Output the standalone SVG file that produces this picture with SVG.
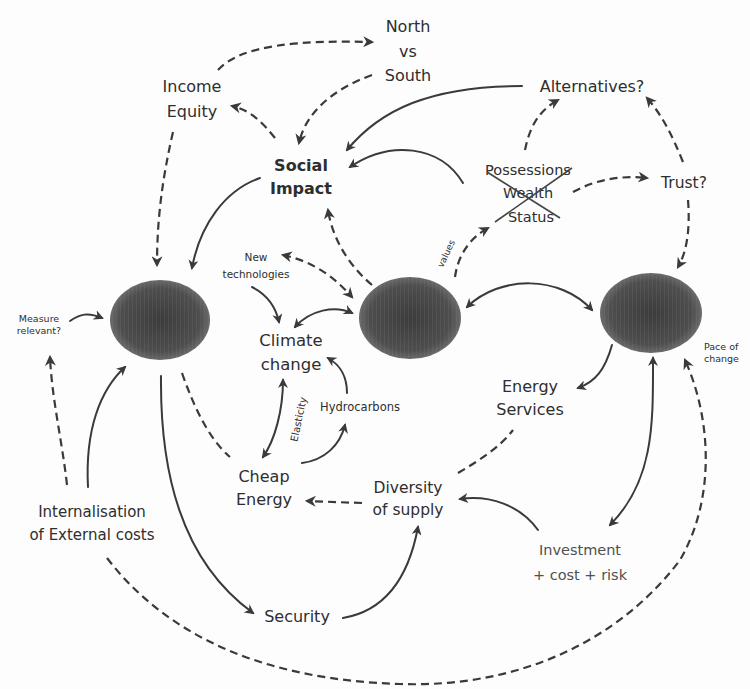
<svg xmlns="http://www.w3.org/2000/svg" width="750" height="689" viewBox="0 0 750 689">
<defs>
<marker id="ah" viewBox="0 0 10 10" refX="8" refY="5" markerWidth="5" markerHeight="5" orient="auto-start-reverse" markerUnits="strokeWidth">
<path d="M0,0 L10,5 L0,10 L3,5 Z" fill="#3a3a3a"/>
</marker>
<radialGradient id="eg" cx="0.5" cy="0.5" r="0.5">
<stop offset="0" stop-color="#3c3c3c"/>
<stop offset="0.8" stop-color="#4e4e4e"/>
<stop offset="1" stop-color="#6a6a6a"/>
</radialGradient>
<pattern id="grid" width="4" height="4" patternUnits="userSpaceOnUse">
<rect width="4" height="4" fill="none"/>
<path d="M0,0 V4" stroke="#8a8a8a" stroke-width="0.6" opacity="0.5"/>
</pattern>
</defs>
<style>
.t{font-family:"DejaVu Sans","Noto Sans",sans-serif;fill:#2e2e2e;text-anchor:middle}
.s{stroke:#3a3a3a;stroke-width:2;fill:none;stroke-linecap:round}
.d{stroke:#3a3a3a;stroke-width:2.2;fill:none;stroke-dasharray:8 5}
.e{fill:url(#eg)}
.x{stroke:#444;stroke-width:1.6;fill:none}
</style>
<rect width="750" height="689" fill="#fdfdfd"/>

<g id="connectors">
<path class="d" d="M218,70 C240,45 300,40 372,42" marker-end="url(#ah)"/>
<path class="d" d="M372,75 C330,90 305,115 299,143" marker-end="url(#ah)"/>
<path class="d" d="M275,138 C262,122 250,110 232,106" marker-end="url(#ah)"/>
<path class="d" d="M173,132 C162,180 157,220 157,265" marker-end="url(#ah)"/>
<path class="s" d="M260,178 C225,190 200,225 192,268" marker-end="url(#ah)"/>
<path class="s" d="M522,86 C430,86 380,110 347,150" marker-end="url(#ah)"/>
<path class="s" d="M463,183 C440,145 390,140 350,167" marker-end="url(#ah)"/>
<path class="d" d="M372,285 C345,262 332,235 328,210" marker-end="url(#ah)"/>
<path class="d" d="M283,255 C315,262 335,278 352,297" marker-start="url(#ah)" marker-end="url(#ah)"/>
<path class="s" d="M252,287 C268,295 276,308 279,322" marker-end="url(#ah)"/>
<path class="s" d="M295,327 C310,310 335,305 352,313" marker-start="url(#ah)" marker-end="url(#ah)"/>
<path class="s" d="M70,321 C80,314 88,312 102,318" marker-end="url(#ah)"/>
<path class="d" d="M67,485 C62,440 52,400 50,357" marker-end="url(#ah)"/>
<path class="s" d="M88,487 C85,430 100,390 125,367" marker-end="url(#ah)"/>
<path class="s" d="M161,376 C160,470 180,560 253,613" marker-end="url(#ah)"/>
<path class="d" d="M182,373 C195,410 210,440 230,457"/>
<path class="s" d="M283,380 C283,410 275,440 263,457" marker-start="url(#ah)" marker-end="url(#ah)"/>
<path class="s" d="M302,463 C325,460 340,445 345,425" marker-end="url(#ah)"/>
<path class="s" d="M347,393 C347,375 340,365 328,358" marker-end="url(#ah)"/>
<path class="d" d="M362,503 L307,501" marker-end="url(#ah)"/>
<path class="d" d="M458,473 C480,460 500,447 513,430"/>
<path class="s" d="M538,530 C520,505 490,495 460,499" marker-end="url(#ah)"/>
<path class="s" d="M343,618 C390,610 410,570 418,527" marker-end="url(#ah)"/>
<path class="s" d="M612,345 C605,370 595,382 578,388" marker-end="url(#ah)"/>
<path class="s" d="M467,307 C500,275 560,275 592,310" marker-start="url(#ah)" marker-end="url(#ah)"/>
<path class="s" d="M653,358 C653,420 655,480 610,525" marker-start="url(#ah)" marker-end="url(#ah)"/>
<path class="d" d="M107,558 C170,640 270,680 400,684 C520,688 620,640 680,560 C715,500 712,420 685,360" marker-end="url(#ah)"/>
<path class="d" d="M525,150 C530,125 540,110 558,100" marker-end="url(#ah)"/>
<path class="d" d="M683,162 C672,135 662,115 647,98" marker-end="url(#ah)"/>
<path class="d" d="M573,192 C595,180 620,175 647,178" marker-end="url(#ah)"/>
<path class="d" d="M688,200 C690,225 688,250 678,267" marker-end="url(#ah)"/>
<path class="d" d="M455,277 C458,255 470,238 488,228" marker-end="url(#ah)"/>
</g>

<g id="ellipse-left"><ellipse class="e" cx="160" cy="320" rx="50" ry="40"/><ellipse cx="160" cy="320" rx="50" ry="40" fill="url(#grid)"/></g>
<g id="ellipse-center"><ellipse class="e" cx="410" cy="318" rx="51" ry="41"/><ellipse cx="410" cy="318" rx="51" ry="41" fill="url(#grid)"/></g>
<g id="ellipse-right"><ellipse class="e" cx="651" cy="313" rx="51" ry="40"/><ellipse cx="651" cy="313" rx="51" ry="40" fill="url(#grid)"/></g>

<g id="north-south"><text class="t" font-size="16"><tspan x="408" y="32">North</tspan><tspan x="408" y="57">vs</tspan><tspan x="408" y="81">South</tspan></text></g>
<g id="income-equity"><text class="t" font-size="16"><tspan x="192" y="92">Income</tspan><tspan x="192" y="117">Equity</tspan></text></g>
<g id="social-impact"><text class="t" font-size="16" font-weight="bold"><tspan x="301" y="171">Social</tspan><tspan x="301" y="194">Impact</tspan></text></g>
<g id="alternatives"><text class="t" font-size="16" x="592" y="92">Alternatives?</text></g>
<g id="possessions">
<text class="t" font-size="14.5"><tspan x="528" y="175">Possessions</tspan><tspan x="528" y="198">Wealth</tspan><tspan x="531" y="222">Status</tspan></text>
<path class="x" d="M495,222 L572,168 M487,172 L560,218"/>
</g>
<g id="trust"><text class="t" font-size="15.5" x="684" y="188">Trust?</text></g>
<g id="new-technologies"><text class="t" font-size="10.5"><tspan x="256" y="261">New</tspan><tspan x="256" y="278">technologies</tspan></text></g>
<g id="climate-change"><text class="t" font-size="16.5"><tspan x="291" y="346">Climate</tspan><tspan x="291" y="370">change</tspan></text></g>
<g id="measure-relevant"><text class="t" font-size="9.5"><tspan x="39" y="322">Measure</tspan><tspan x="39" y="334">relevant?</tspan></text></g>
<g id="hydrocarbons"><text class="t" font-size="11.5" x="360" y="411">Hydrocarbons</text></g>
<g id="elasticity"><text class="t" font-size="10" transform="translate(302,420) rotate(-78)">Elasticity</text></g>
<g id="values"><text class="t" font-size="9" transform="translate(449,255) rotate(-65)">values</text></g>
<g id="cheap-energy"><text class="t" font-size="16"><tspan x="264" y="482">Cheap</tspan><tspan x="264" y="505">Energy</tspan></text></g>
<g id="diversity"><text class="t" font-size="15.5"><tspan x="408" y="493">Diversity</tspan><tspan x="408" y="515">of supply</tspan></text></g>
<g id="energy-services"><text class="t" font-size="16"><tspan x="530" y="392">Energy</tspan><tspan x="530" y="415">Services</tspan></text></g>
<g id="pace-of-change"><text class="t" font-size="9.5" style="text-anchor:start"><tspan x="704" y="350">Pace of</tspan><tspan x="704" y="362">change</tspan></text></g>
<g id="internalisation"><text class="t" font-size="15"><tspan x="92" y="517">Internalisation</tspan><tspan x="92" y="540">of External costs</tspan></text></g>
<g id="security"><text class="t" font-size="16" x="297" y="622">Security</text></g>
<g id="investment"><text class="t" font-size="14.5" style="fill:#505050"><tspan x="580" y="555">Investment</tspan><tspan x="580" y="580">+ cost + risk</tspan></text></g>
</svg>
